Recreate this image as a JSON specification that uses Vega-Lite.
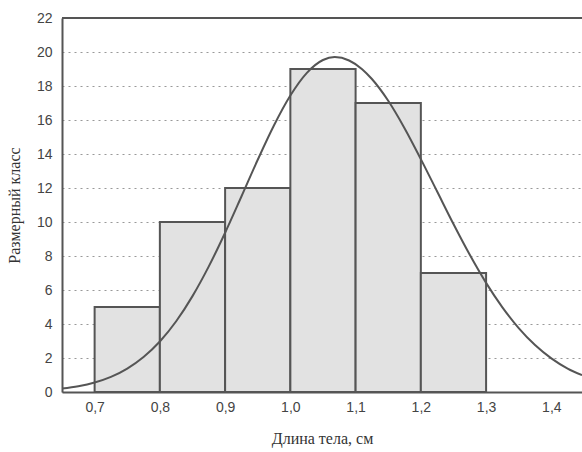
{
  "$schema": "https://vega.github.io/schema/vega-lite/v6.json",
  "width": 520,
  "height": 374,
  "autosize": {"type": "none"},
  "padding": {"left": 62, "top": 18, "right": 0, "bottom": 60},
  "background": "white",
  "config": {
    "view": {"stroke": null},
    "axis": {"labelFont": "Liberation Sans", "labelFontSize": 14, "labelColor": "#444", "labelOverlap": false, "titleFont": "Liberation Serif", "titleFontSize": 16, "titleFontWeight": "normal", "titleColor": "#333", "domainColor": "#555", "domainWidth": 2, "ticks": false},
    "axisX": {"grid": false, "labelPadding": 8, "titlePadding": 16},
    "axisY": {"grid": true, "gridDash": [2, 4], "gridColor": "#999", "gridWidth": 1, "labelPadding": 10, "titlePadding": 14}
  },
  "datasets": {
    "bins": [
      {"x0": 0.7, "x1": 0.8, "count": 5},
      {"x0": 0.8, "x1": 0.9, "count": 10},
      {"x0": 0.9, "x1": 1.0, "count": 12},
      {"x0": 1.0, "x1": 1.1, "count": 19},
      {"x0": 1.1, "x1": 1.2, "count": 17},
      {"x0": 1.2, "x1": 1.3, "count": 7}
    ],
    "curve": [
      {"x": 0.65, "y": 0.2}, {"x": 0.675, "y": 0.34}, {"x": 0.7, "y": 0.56}, {"x": 0.725, "y": 0.89},
      {"x": 0.75, "y": 1.38}, {"x": 0.775, "y": 2.06}, {"x": 0.8, "y": 2.97}, {"x": 0.825, "y": 4.16},
      {"x": 0.85, "y": 5.64}, {"x": 0.875, "y": 7.39}, {"x": 0.9, "y": 9.37}, {"x": 0.925, "y": 11.5},
      {"x": 0.95, "y": 13.66}, {"x": 0.975, "y": 15.69}, {"x": 1.0, "y": 17.44}, {"x": 1.025, "y": 18.76},
      {"x": 1.05, "y": 19.53}, {"x": 1.068, "y": 19.7}, {"x": 1.09, "y": 19.5}, {"x": 1.11, "y": 18.99},
      {"x": 1.125, "y": 18.41}, {"x": 1.15, "y": 17.13}, {"x": 1.175, "y": 15.52}, {"x": 1.2, "y": 13.7},
      {"x": 1.225, "y": 11.79}, {"x": 1.25, "y": 9.88}, {"x": 1.275, "y": 8.07}, {"x": 1.3, "y": 6.42},
      {"x": 1.325, "y": 4.98}, {"x": 1.35, "y": 3.76}, {"x": 1.375, "y": 2.76}, {"x": 1.4, "y": 1.98},
      {"x": 1.425, "y": 1.38}, {"x": 1.447, "y": 0.99}
    ],
    "top": [{"v": 22}]
  },
  "layer": [
    {
      "data": {"name": "bins"},
      "mark": {"type": "rect", "fill": "#e2e2e2", "stroke": "#555", "strokeWidth": 2},
      "encoding": {
        "x": {"field": "x0", "type": "quantitative",
          "scale": {"domain": [0.65, 1.447], "nice": false, "zero": false},
          "axis": {"title": "Длина тела, см", "values": [0.7, 0.8, 0.9, 1.0, 1.1, 1.2, 1.3, 1.4], "labelExpr": "replace(format(datum.value, '.1f'), '.', ',')"}},
        "x2": {"field": "x1"},
        "y": {"field": "count", "type": "quantitative",
          "scale": {"domain": [0, 22], "nice": false},
          "axis": {"title": "Размерный класс", "values": [0, 2, 4, 6, 8, 10, 12, 14, 16, 18, 20, 22]}},
        "y2": {"datum": 0}
      }
    },
    {
      "data": {"name": "curve"},
      "mark": {"type": "line", "color": "#555", "strokeWidth": 2, "interpolate": "monotone", "clip": true},
      "encoding": {
        "x": {"field": "x", "type": "quantitative",
          "axis": {"title": "Длина тела, см", "values": [0.7, 0.8, 0.9, 1.0, 1.1, 1.2, 1.3, 1.4], "labelExpr": "replace(format(datum.value, '.1f'), '.', ',')"}},
        "y": {"field": "y", "type": "quantitative",
          "axis": {"title": "Размерный класс", "values": [0, 2, 4, 6, 8, 10, 12, 14, 16, 18, 20, 22]}}
      }
    },
    {
      "data": {"name": "top"},
      "mark": {"type": "rule", "color": "#555", "strokeWidth": 2},
      "encoding": {
        "y": {"field": "v", "type": "quantitative",
          "axis": {"title": "Размерный класс", "values": [0, 2, 4, 6, 8, 10, 12, 14, 16, 18, 20, 22]}}
      }
    }
  ]
}
